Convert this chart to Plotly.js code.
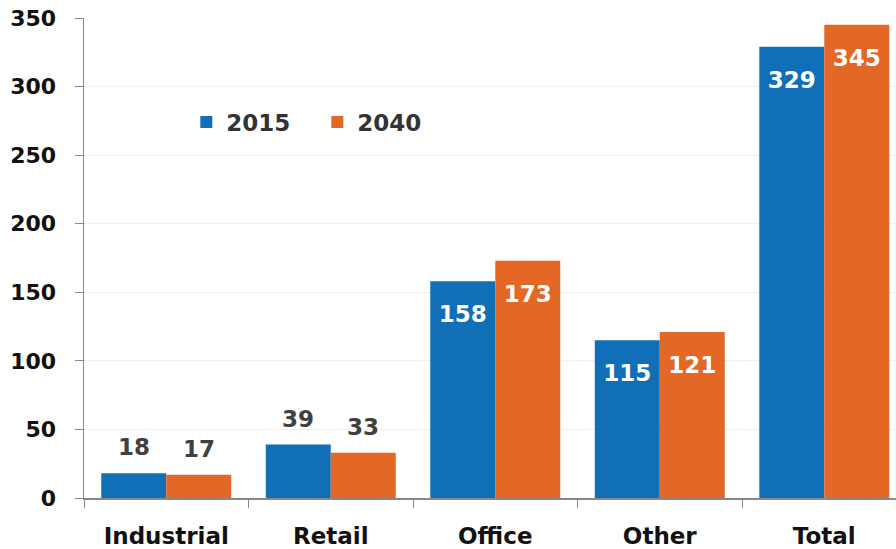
<!DOCTYPE html>
<html>
<head>
<meta charset="utf-8">
<script src="https://cdn.plot.ly/plotly-3.0.1.min.js"></script>
<style>
  html, body { margin: 0; padding: 0; background: #fff; }
  #chart { width: 896px; height: 549px; }
</style>
</head>
<body>
<div id="chart"></div>
<script>
const categories = ['Industrial', 'Retail', 'Office', 'Other', 'Total'];
const values2015 = [18, 39, 158, 115, 329];
const values2040 = [17, 33, 173, 121, 345];
const labelInside = [false, false, true, true, true];
const yTicks = [0, 50, 100, 150, 200, 250, 300, 350];

const blue = '#116FB7';
const orange = '#E36826';
const font = '"DejaVu Sans", sans-serif';

const W = 896, H = 549;
const margin = { l: 84, r: 0, t: 18, b: 51 };
const xRange = [-0.5, 4.436];
const bargap = 0.21;

// half a bar in pixels, used to centre outside labels over each bar
const catPx = (W - margin.l - margin.r) / (xRange[1] - xRange[0]);
const halfBar = catPx * (1 - bargap) / 4;

const padIn = '<span style="font-size:9px"> </span><br>';

function barTrace(name, values, color) {
  return {
    type: 'bar',
    name: name,
    x: categories,
    y: values,
    marker: { color: color },
    text: values.map((v, i) => labelInside[i] ? padIn + v : ''),
    textposition: 'inside',
    insidetextanchor: 'end',
    textangle: 0,
    insidetextfont: { family: font, size: 23, color: '#ffffff', weight: 700 },
    hoverinfo: 'x+y'
  };
}

const traces = [
  barTrace('2015', values2015, blue),
  barTrace('2040', values2040, orange)
];

// labels above the short bars
const annotations = [];
[[values2015, -1], [values2040, 1]].forEach(([vals, side]) => {
  vals.forEach((v, i) => {
    if (labelInside[i]) return;
    annotations.push({
      x: categories[i], y: v,
      xref: 'x', yref: 'y',
      text: String(v),
      showarrow: false,
      xanchor: 'center', yanchor: 'bottom',
      xshift: side * halfBar,
      yshift: 11,
      font: { family: font, size: 23, color: '#404040', weight: 700 }
    });
  });
});

const layout = {
  width: W,
  height: H,
  margin: margin,
  paper_bgcolor: '#fff',
  plot_bgcolor: '#fff',
  barmode: 'group',
  bargap: bargap,
  bargroupgap: 0,
  showlegend: true,
  legend: {
    orientation: 'h',
    x: 0.126, y: 0.783,
    xanchor: 'left', yanchor: 'middle',
    font: { family: font, size: 23, color: '#333', weight: 700 },
    itemwidth: 30,
    entrywidth: 86,
    bgcolor: 'rgba(0,0,0,0)'
  },
  annotations: annotations,
  xaxis: {
    type: 'category',
    range: xRange,
    tickson: 'boundaries',
    ticks: 'outside',
    ticklen: 8,
    tickcolor: '#888',
    showline: true,
    linecolor: '#888',
    linewidth: 1.5,
    showgrid: false,
    tickfont: { family: font, size: 23, color: '#111', weight: 700 },
    ticklabelstandoff: 17
  },
  yaxis: {
    range: [0, 350],
    tickvals: yTicks,
    ticks: 'outside',
    ticklen: 8,
    tickcolor: '#888',
    showline: true,
    linecolor: '#888',
    linewidth: 1.5,
    showgrid: true,
    gridcolor: '#efefef',
    zeroline: false,
    tickfont: { family: font, size: 22, color: '#111', weight: 700 },
    ticklabelstandoff: 14
  }
};

Plotly.newPlot('chart', traces, layout, { displayModeBar: false, staticPlot: true });
</script>
</body>
</html>
